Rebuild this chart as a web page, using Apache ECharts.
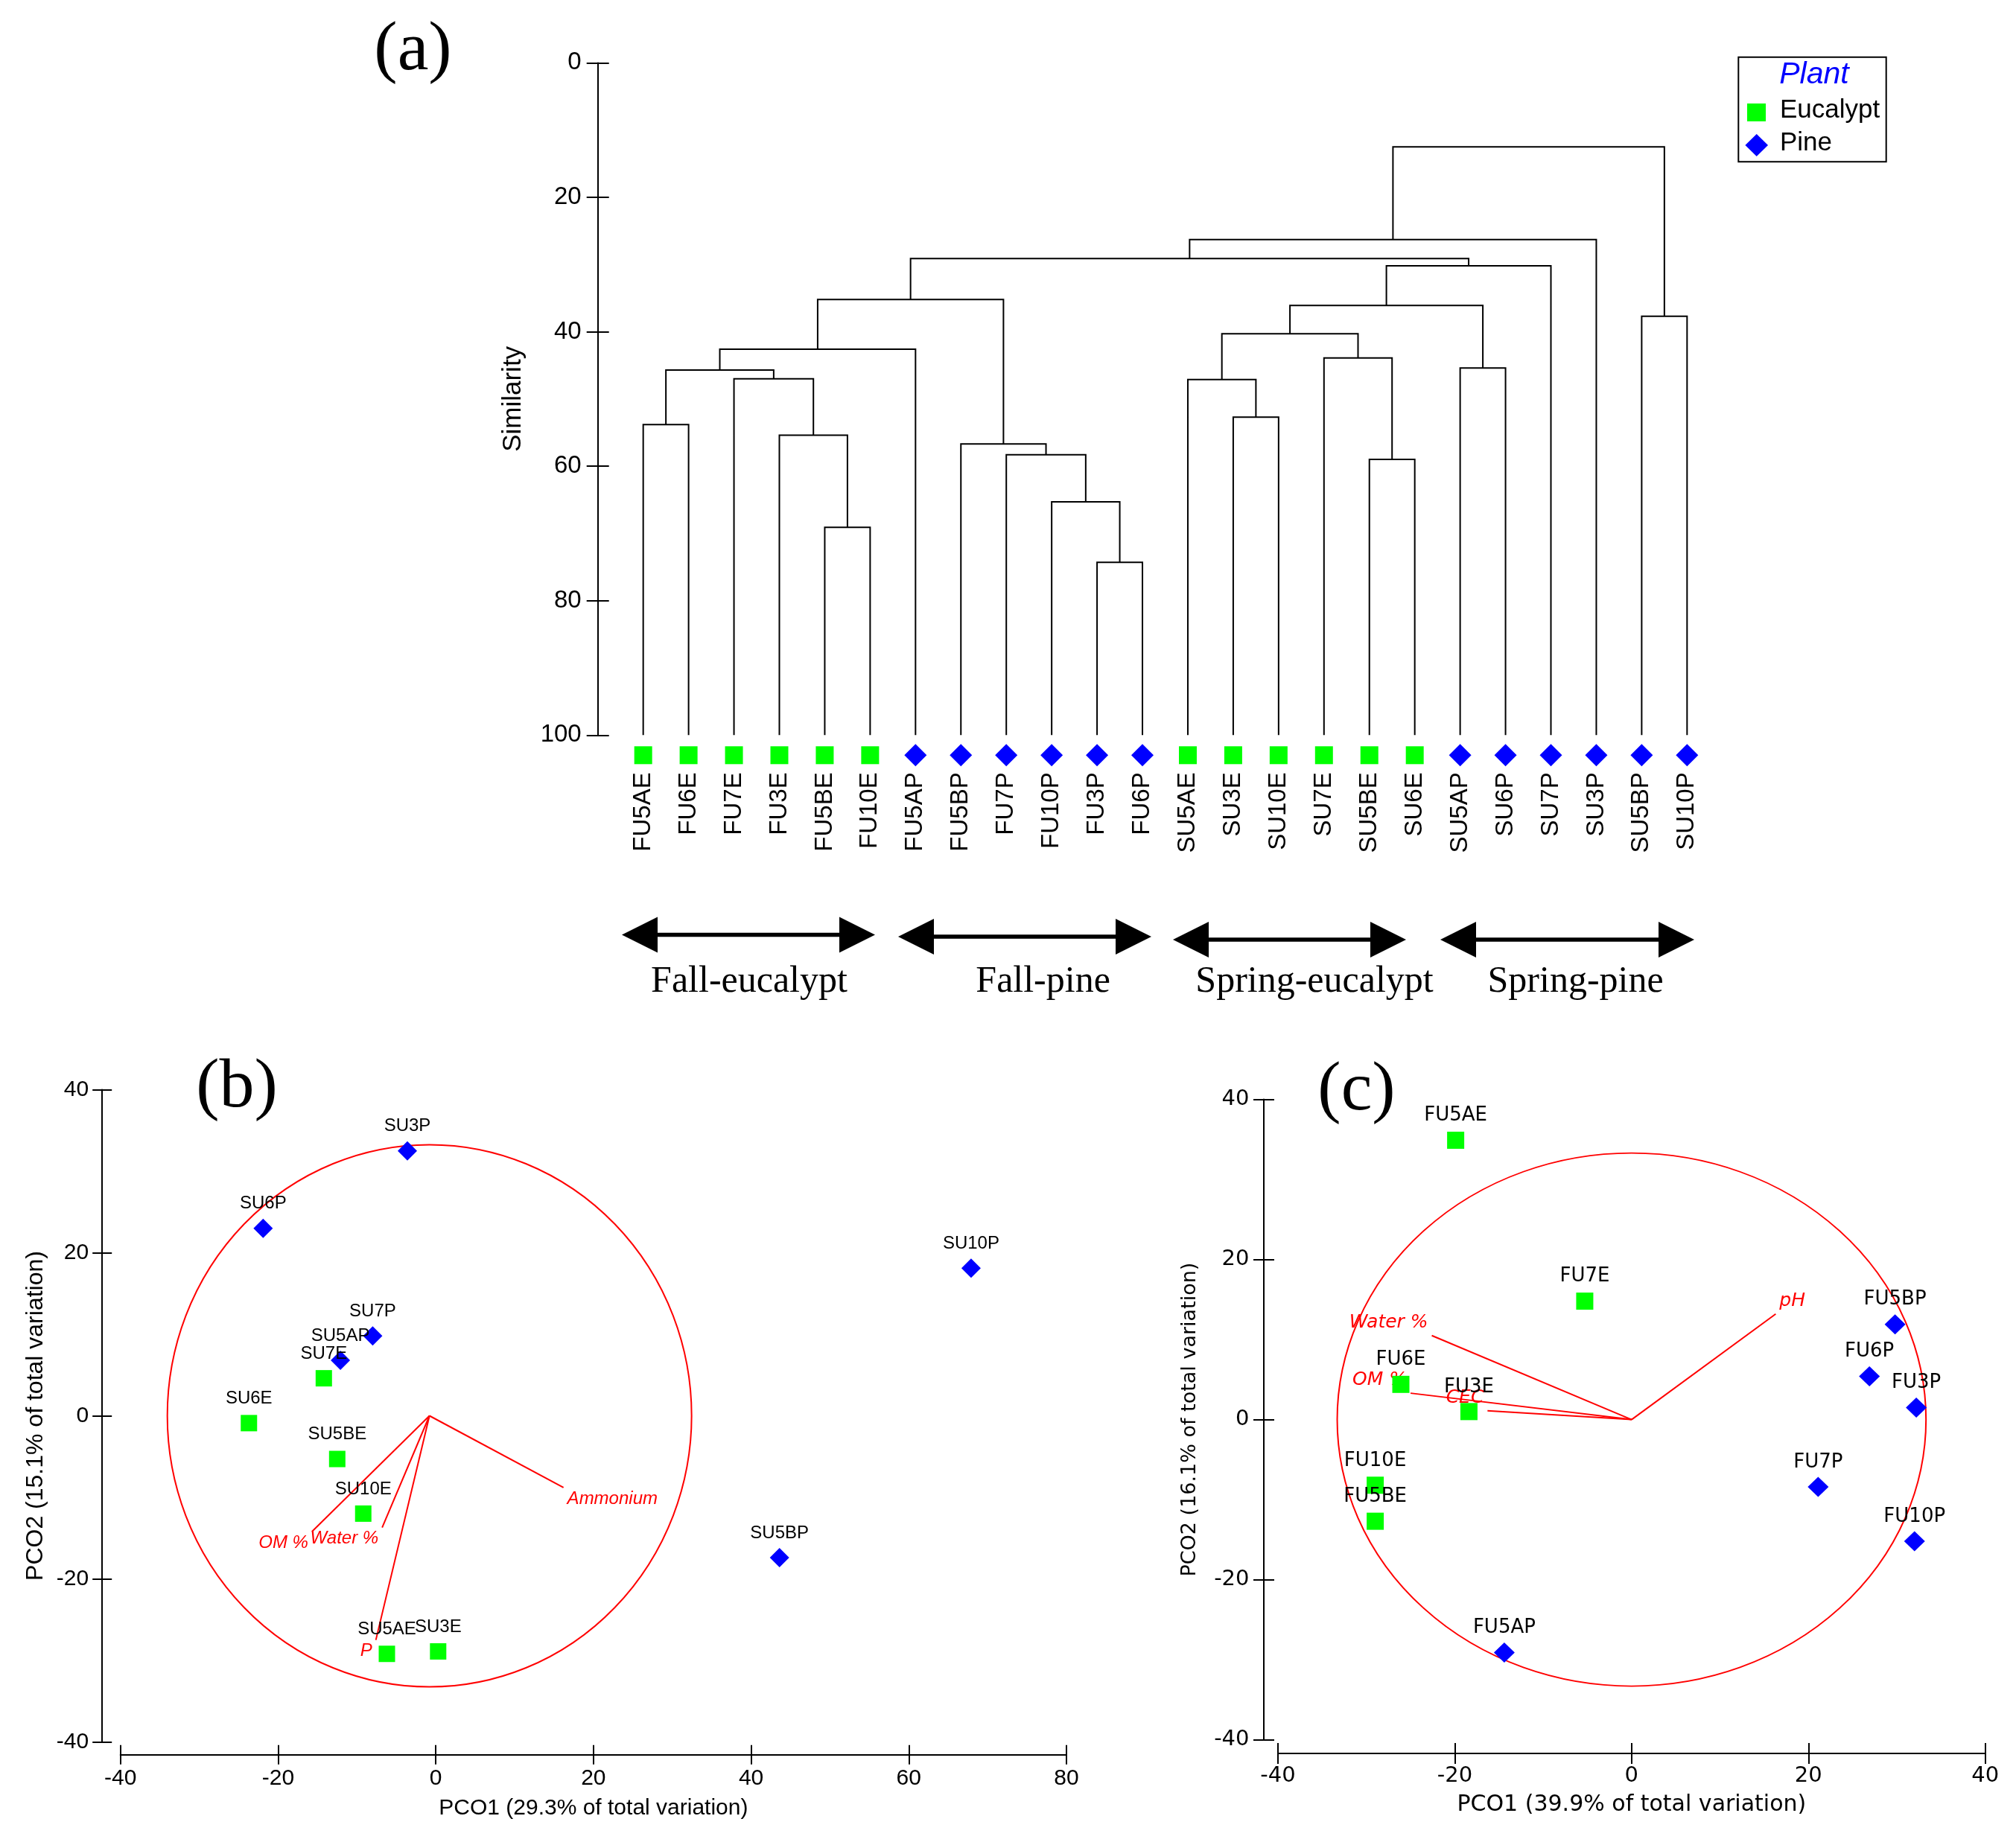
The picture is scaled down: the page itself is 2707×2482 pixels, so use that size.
<!DOCTYPE html>
<html>
<head>
<meta charset="utf-8">
<script src="https://cdn.jsdelivr.net/npm/echarts@6/dist/echarts.min.js"></script>
<style>
html,body{margin:0;padding:0;background:#fff;}
#chart{width:2707px;height:2482px;}
</style>
</head>
<body>
<div id="chart"></div>
<script>
// ---------------- DATA ----------------
// (a) dendrogram leaves (left to right) and plant type
const leafNames = ['FU5AE','FU6E','FU7E','FU3E','FU5BE','FU10E','FU5AP','FU5BP','FU7P','FU10P','FU3P','FU6P',
                   'SU5AE','SU3E','SU10E','SU7E','SU5BE','SU6E','SU5AP','SU6P','SU7P','SU3P','SU5BP','SU10P'];
const leafPlant = ['E','E','E','E','E','E','P','P','P','P','P','P','E','E','E','E','E','E','P','P','P','P','P','P'];
// merges: [child A, child B, similarity]; 'mK' = result of merge K
const merges = [
  ['FU5AE','FU6E',53.8],   // m0
  ['FU5BE','FU10E',69.1],  // m1
  ['FU3E','m1',55.4],      // m2
  ['FU7E','m2',47.0],      // m3
  ['m0','m3',45.7],        // m4
  ['m4','FU5AP',42.6],     // m5
  ['FU3P','FU6P',74.3],    // m6
  ['FU10P','m6',65.3],     // m7
  ['FU7P','m7',58.3],      // m8
  ['FU5BP','m8',56.7],     // m9
  ['m5','m9',35.2],        // m10
  ['SU3E','SU10E',52.7],   // m11
  ['SU5AE','m11',47.1],    // m12
  ['SU5BE','SU6E',59.0],   // m13
  ['SU7E','m13',43.9],     // m14
  ['m12','m14',40.3],      // m15
  ['SU5AP','SU6P',45.4],   // m16
  ['m15','m16',36.1],      // m17
  ['m17','SU7P',30.2],     // m18
  ['m10','m18',29.1],      // m19
  ['m19','SU3P',26.3],     // m20
  ['SU5BP','SU10P',37.7],  // m21
  ['m20','m21',12.5]       // m22
];
const similarityTicks = [0, 20, 40, 60, 80, 100];
const groupNames = ['Fall-eucalypt','Fall-pine','Spring-eucalypt','Spring-pine'];
const plantNames = ['Eucalypt','Pine'];

// (b) spring PCO
const springNames = ['SU3P','SU6P','SU10P','SU7P','SU5AP','SU7E','SU6E','SU5BE','SU10E','SU5BP','SU5AE','SU3E'];
const springPCO1  = [-3.6,-21.9,67.9,-8.0,-12.1,-14.2,-23.7,-12.5,-9.2,43.6,-6.2,0.3];
const springPCO2  = [32.5,23.0,18.1,9.8,6.8,4.6,-0.9,-5.3,-12.0,-17.4,-29.2,-28.9];
const springPlant = ['P','P','P','P','P','E','E','E','E','P','E','E'];
const springVecNames = ['Ammonium','OM %','Water %','P'];
const springVecX = [16.2,-15.7,-6.8,-7.6];
const springVecY = [-8.8,-14.2,-13.7,-27.5];
const springCircle = [-0.8, 0, 33.25];   // centre PCO1, centre PCO2, radius

// (c) fall PCO
const fallNames = ['FU5AE','FU7E','FU6E','FU3E','FU10E','FU5BE','FU5AP','FU5BP','FU6P','FU3P','FU7P','FU10P'];
const fallPCO1  = [-19.9,-5.3,-26.1,-18.4,-29.0,-29.0,-14.4,29.8,26.9,32.2,21.1,32.0];
const fallPCO2  = [34.9,14.8,4.4,1.0,-8.2,-12.7,-29.1,11.9,5.4,1.5,-8.4,-15.2];
const fallPlant = ['E','E','E','E','E','E','P','P','P','P','P','P'];
const fallVecNames = ['pH','Water %','OM %','CEC'];
const fallVecX = [16.3,-22.6,-25.0,-16.3];
const fallVecY = [13.2,10.5,3.3,1.1];
const fallCircle = [0, 0, 33.3];

// ---------------- BUILD ----------------
const SANS = 'Liberation Sans', DEJAVU = 'DejaVu Sans', SERIF = 'Liberation Serif';
const GREEN = '#00ff00', BLUE = '#0000ff', RED = '#ff0000';

// dendrogram segments
const nodeX = {}, nodeH = {};
leafNames.forEach((n, i) => { nodeX[n] = i; nodeH[n] = 100; });
const linkData = merges.map((m, k) => {
  const [a, b, h] = m;
  const row = [nodeX[a], nodeH[a], nodeX[b], nodeH[b], h];
  nodeX['m' + k] = (nodeX[a] + nodeX[b]) / 2;
  nodeH['m' + k] = h;
  return row;
});

function leafData(plant) {
  return leafNames.filter((n, i) => leafPlant[i] === plant).map(n => [n, 100]);
}
function ptData(names, xs, ys, plants, plant) {
  return names.map((n, i) => [xs[i], ys[i], n]).filter((d, i) => plants[i] === plant);
}
function vecData(xs, ys, c) {
  return xs.map((x, i) => [c[0], c[1], x, ys[i]]);
}

function valueAxisPair(gridIndex, dim, min, max, offset, tickLen, font, fontSize, margin, name, nameGap, nameSize, nameFont) {
  const base = {
    type: 'value', gridIndex, min, max, interval: 20, offset,
    position: dim === 'x' ? 'bottom' : 'left',
    splitLine: {show: false}
  };
  const main = Object.assign({}, base, {
    axisLine: {show: true, onZero: false, lineStyle: {color: '#000', width: 2}},
    axisTick: {show: true, inside: false, length: tickLen, lineStyle: {color: '#000', width: 2}},
    axisLabel: {show: true, margin, fontSize, fontFamily: font, color: '#000'},
    name, nameLocation: 'middle', nameGap,
    nameTextStyle: {fontSize: nameSize, fontFamily: nameFont, color: '#000'}
  });
  const dup = Object.assign({}, base, {
    axisLine: {show: false, onZero: false},
    axisTick: {show: true, inside: true, length: tickLen, lineStyle: {color: '#000', width: 2}},
    axisLabel: {show: false}
  });
  return [main, dup];
}

function circleSeries(xi, yi, c) {
  return {
    type: 'custom', xAxisIndex: xi, yAxisIndex: yi, silent: true, z: 2,
    data: [c],
    renderItem: function (params, api) {
      const p = api.coord([api.value(0), api.value(1)]);
      const s = api.size([api.value(2), api.value(2)]);
      return {
        type: 'circle', x: p[0], y: p[1], scaleX: 1, scaleY: s[1] / s[0],
        shape: {cx: 0, cy: 0, r: s[0]},
        style: {fill: 'none', stroke: RED, lineWidth: 2, strokeNoScale: true}
      };
    }
  };
}

function vectorSeries(xi, yi, names, xs, ys, c, below, font, fontSize) {
  return {
    type: 'custom', xAxisIndex: xi, yAxisIndex: yi, silent: true, z: 3,
    data: vecData(xs, ys, c),
    renderItem: function (params, api) {
      const o = api.coord([api.value(0), api.value(1)]);
      const e = api.coord([api.value(2), api.value(3)]);
      const right = e[0] > o[0];
      return {
        type: 'group',
        children: [
          {type: 'line', shape: {x1: o[0], y1: o[1], x2: e[0], y2: e[1]},
           style: {stroke: RED, lineWidth: 2}},
          {type: 'text', x: e[0] + (right ? 5 : -5), y: e[1] + (below ? 3 : -5),
           style: {text: names[params.dataIndex], fill: RED,
                   font: 'italic ' + fontSize + 'px "' + font + '"',
                   align: right ? 'left' : 'right', verticalAlign: below ? 'top' : 'bottom'}}
        ]
      };
    }
  };
}

function pointSeries(xi, yi, data, plant, sizeE, sizeP, font, fontSize, distE, distP) {
  const isE = plant === 'E';
  return {
    type: 'scatter', name: isE ? plantNames[0] : plantNames[1],
    xAxisIndex: xi, yAxisIndex: yi, z: 4, clip: false, silent: true,
    symbol: isE ? 'rect' : 'diamond',
    symbolSize: isE ? sizeE : sizeP,
    itemStyle: {color: isE ? GREEN : BLUE, opacity: 1},
    label: {show: true, position: 'top', distance: isE ? distE : distP,
            formatter: p => p.value[2], fontFamily: font, fontSize, color: '#000'},
    data
  };
}

// arrows (double headed)
function arrowShape(x1, x2, cy) {
  const hl = 48, hh = 24, sh = 2.7;
  return [[x1, cy], [x1 + hl, cy - hh], [x1 + hl, cy - sh], [x2 - hl, cy - sh], [x2 - hl, cy - hh],
          [x2, cy], [x2 - hl, cy + hh], [x2 - hl, cy + sh], [x1 + hl, cy + sh], [x1 + hl, cy + hh]];
}
const arrowBoxes = [[835, 1175, 1255.5], [1206, 1546, 1258], [1575, 1888, 1262], [1934, 2275, 1262]];
const groupLabelX = [1006, 1400.6, 1765, 2115.6];

const graphic = [];
arrowBoxes.forEach((a, i) => {
  graphic.push({type: 'polygon', shape: {points: arrowShape(a[0], a[1], a[2])}, style: {fill: '#000'}});
  graphic.push({type: 'text', x: groupLabelX[i], y: 1319,
    style: {text: groupNames[i], font: '50px "' + SERIF + '"', fill: '#000', align: 'center', verticalAlign: 'middle'}});
});
[['(a)', 554.5, 68.5], ['(b)', 318, 1461.5], ['(c)', 1821.5, 1465.5]].forEach(t => {
  graphic.push({type: 'text', x: t[1], y: t[2],
    style: {text: t[0], font: '94px "' + SERIF + '"', fill: '#000', align: 'center', verticalAlign: 'middle'}});
});
// legend box
graphic.push({type: 'rect', shape: {x: 2334.3, y: 76.7, width: 198.4, height: 140.6},
  style: {fill: '#fff', stroke: '#000', lineWidth: 2}});
graphic.push({type: 'text', x: 2436, y: 100.5,
  style: {text: 'Plant', font: 'italic 41px "' + SANS + '"', fill: BLUE, align: 'center', verticalAlign: 'middle'}});
graphic.push({type: 'rect', shape: {x: 2346, y: 139, width: 25, height: 24}, style: {fill: GREEN}});
graphic.push({type: 'polygon', shape: {points: [[2358.7, 180], [2374, 195], [2358.7, 210], [2343.4, 195]]}, style: {fill: BLUE}});
graphic.push({type: 'text', x: 2390, y: 148,
  style: {text: plantNames[0], font: '35px "' + SANS + '"', fill: '#000', align: 'left', verticalAlign: 'middle'}});
graphic.push({type: 'text', x: 2390, y: 192,
  style: {text: plantNames[1], font: '35px "' + SANS + '"', fill: '#000', align: 'left', verticalAlign: 'middle'}});

const [bx, bxd] = valueAxisPair(1, 'x', -40, 80, 17.2, 13, SANS, 30, 17, 'PCO1 (29.3% of total variation)', 57.5, 30, SANS);
const [by, byd] = valueAxisPair(1, 'y', -40, 40, 24.5, 13, SANS, 30, 18, 'PCO2 (15.1% of total variation)', 73.5, 32, SANS);
const [cx, cxd] = valueAxisPair(2, 'x', -40, 40, 18.4, 14, DEJAVU, 29, 15.5, 'PCO1 (39.9% of total variation)', 54.5, 30, DEJAVU);
const [cy, cyd] = valueAxisPair(2, 'y', -40, 40, 19, 14, DEJAVU, 29, 19.5, 'PCO2 (16.1% of total variation)', 85.5, 27, DEJAVU);

const option = {
  animation: false,
  backgroundColor: '#ffffff',
  grid: [
    {left: 833.2, top: 84.4, width: 1462.6, height: 902.9, containLabel: false, outerBoundsMode: 'none'},
    {left: 161.7, top: 1463.5, width: 1270.3, height: 876, containLabel: false, outerBoundsMode: 'none'},
    {left: 1716, top: 1476.6, width: 949.7, height: 860, containLabel: false, outerBoundsMode: 'none'}
  ],
  xAxis: [
    {type: 'category', gridIndex: 0, data: leafNames, position: 'bottom', boundaryGap: true,
     axisLine: {show: false, onZero: false}, axisTick: {show: false}, splitLine: {show: false},
     axisLabel: {interval: 0, rotate: 90, margin: 50, fontSize: 33, fontFamily: SANS, color: '#000'}},
    {type: 'value', gridIndex: 0, min: -0.5, max: 23.5, position: 'bottom', show: false},
    bx, bxd, cx, cxd
  ],
  yAxis: [
    {type: 'value', gridIndex: 0, inverse: true, min: 0, max: 100, interval: 20, position: 'left', offset: 30.5,
     axisLine: {show: true, onZero: false, lineStyle: {color: '#000', width: 2}},
     axisTick: {show: true, length: 15, lineStyle: {color: '#000', width: 2}},
     axisLabel: {margin: 22, fontSize: 33, fontFamily: SANS, color: '#000',
                 customValues: similarityTicks},
     splitLine: {show: false},
     name: 'Similarity', nameLocation: 'middle', nameGap: 95.5,
     nameTextStyle: {fontSize: 35, fontFamily: SANS, color: '#000'}},
    {type: 'value', gridIndex: 0, inverse: true, min: 0, max: 100, interval: 20, position: 'left', offset: 30.5,
     axisLine: {show: false, onZero: false},
     axisTick: {show: true, inside: true, length: 15, lineStyle: {color: '#000', width: 2}},
     axisLabel: {show: false}, splitLine: {show: false}},
    by, byd, cy, cyd
  ],
  graphic,
  series: [
    {type: 'custom', xAxisIndex: 1, yAxisIndex: 0, silent: true, z: 2,
     data: linkData,
     renderItem: function (params, api) {
       const a1 = api.coord([api.value(0), api.value(1)]);
       const a2 = api.coord([api.value(0), api.value(4)]);
       const b2 = api.coord([api.value(2), api.value(4)]);
       const b1 = api.coord([api.value(2), api.value(3)]);
       return {type: 'polyline', shape: {points: [a1, a2, b2, b1]},
               style: {fill: 'none', stroke: '#000', lineWidth: 2}};
     }},
    {type: 'scatter', name: plantNames[0], xAxisIndex: 0, yAxisIndex: 0, clip: false, silent: true, z: 4,
     symbol: 'rect', symbolSize: 24, symbolOffset: [0, 27], itemStyle: {color: GREEN, opacity: 1},
     data: leafData('E')},
    {type: 'scatter', name: plantNames[1], xAxisIndex: 0, yAxisIndex: 0, clip: false, silent: true, z: 4,
     symbol: 'diamond', symbolSize: [30, 30], symbolOffset: [0, 27], itemStyle: {color: BLUE, opacity: 1},
     data: leafData('P')},
    circleSeries(2, 2, springCircle),
    vectorSeries(2, 2, springVecNames, springVecX, springVecY, springCircle, true, SANS, 24),
    pointSeries(2, 2, ptData(springNames, springPCO1, springPCO2, springPlant, 'E'), 'E', 22, [26, 26], SANS, 24, 10, 8),
    pointSeries(2, 2, ptData(springNames, springPCO1, springPCO2, springPlant, 'P'), 'P', 22, [26, 26], SANS, 24, 10, 8),
    circleSeries(4, 4, fallCircle),
    vectorSeries(4, 4, fallVecNames, fallVecX, fallVecY, fallCircle, false, DEJAVU, 25),
    pointSeries(4, 4, ptData(fallNames, fallPCO1, fallPCO2, fallPlant, 'E'), 'E', 23, [28, 27], DEJAVU, 26, 8.5, 6.5),
    pointSeries(4, 4, ptData(fallNames, fallPCO1, fallPCO2, fallPlant, 'P'), 'P', 23, [28, 27], DEJAVU, 26, 8.5, 6.5)
  ]
};

const chart = echarts.init(document.getElementById('chart'), null, {renderer: 'canvas', width: 2707, height: 2482});
chart.setOption(option);
</script>
</body>
</html>
